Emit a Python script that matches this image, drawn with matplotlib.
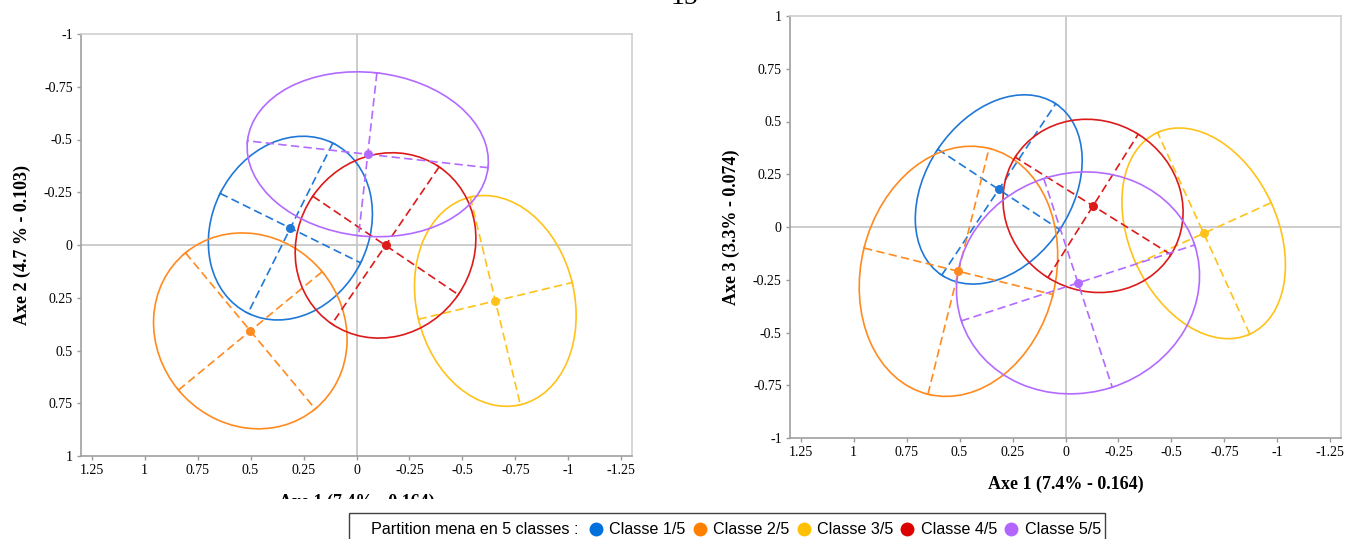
import matplotlib
matplotlib.use('Agg')
import matplotlib.pyplot as plt
import numpy as np
from matplotlib.patches import Ellipse, Rectangle
from matplotlib.lines import Line2D
from matplotlib.transforms import Bbox, TransformedBbox

plt.rcParams['axes.unicode_minus'] = False

# classes de la partition
classes = ['Classe 1/5', 'Classe 2/5', 'Classe 3/5', 'Classe 4/5', 'Classe 5/5']
couleurs = ['#1f78d8', '#ff8a1f', '#ffc21a', '#dd1a1a', '#b36bff']
legende_couleurs = ['#0070dd', '#ff8000', '#ffc000', '#dd0000', '#b266ff']

# plan Axe 1 x Axe 2 : centre, demi-axes, angle (degres)
p12_x = [0.312, 0.501, -0.655, -0.137, -0.053]
p12_y = [-0.080, 0.407, 0.265, 0.002, -0.430]
p12_a = [0.45, 0.48, 0.506, 0.45, 0.571]
p12_b = [0.37, 0.44, 0.373, 0.415, 0.388]
p12_ang = [63.6, 129.6, 103.5, 55.8, -6.4]

# plan Axe 1 x Axe 3
p13_x = [0.315, 0.505, -0.652, -0.130, -0.059]
p13_y = [0.178, -0.210, -0.030, 0.100, -0.265]
p13_a = [0.487, 0.60, 0.525, 0.434, 0.579]
p13_b = [0.345, 0.459, 0.35, 0.401, 0.52]
p13_ang = [123.5, 103.9, 65.5, 32.1, 161.9]

ticks = [1.25, 1, 0.75, 0.5, 0.25, 0, -0.25, -0.5, -0.75, -1, -1.25]
yticks = [-1, -0.75, -0.5, -0.25, 0, 0.25, 0.5, 0.75, 1]

serif = 'Liberation Serif'
W, H = 1345, 539


def plan(ax, cx, cy, ra, rb, ang):
    ax.axhline(0, color='#c3c3c3', lw=1.2, zorder=0)
    ax.axvline(0, color='#c3c3c3', lw=1.2, zorder=0)
    for i in range(len(cx)):
        c = couleurs[i]
        ax.add_patch(Ellipse((cx[i], cy[i]), 2 * ra[i], 2 * rb[i], angle=ang[i],
                             fill=False, edgecolor=c, lw=1.2, zorder=2))
        t = np.radians(ang[i])
        # axes principaux en pointilles
        for r, d in [(ra[i], (np.cos(t), np.sin(t))), (rb[i], (-np.sin(t), np.cos(t)))]:
            x0, y0 = cx[i] - r * d[0], cy[i] - r * d[1]
            x1, y1 = cx[i] + r * d[0], cy[i] + r * d[1]
            ln, = ax.plot([x0, x1], [y0, y1], color=c, lw=1.2, zorder=2)
            ln.set_dashes((5, 2.6))
            # petits traits aux extremites
            e = 0.012
            for xe, ye in [(x0, y0), (x1, y1)]:
                ax.plot([xe - e * d[1], xe + e * d[1]], [ye + e * d[0], ye - e * d[0]],
                        color=c, lw=1.0, zorder=2)
        ax.plot(cx[i], cy[i], 'o', color=c, ms=6.5, mec='none', zorder=3)

    ax.set_xlim(1.3, -1.3)
    ax.set_xticks(ticks)
    ax.set_xticklabels(['%g' % v for v in ticks])
    ax.set_yticks(yticks)
    ax.set_yticklabels(['%g' % v for v in yticks])
    ax.tick_params(direction='out', length=3, width=1, color='#9a9a9a',
                   labelsize=10, pad=3)
    for lab in ax.get_xticklabels() + ax.get_yticklabels():
        lab.set_family(serif)
    for s in ['top', 'right']:
        ax.spines[s].set_color('#cfcfcf')
    for s in ['left', 'bottom']:
        ax.spines[s].set_color('#a0a0a0')
    for s in ax.spines.values():
        s.set_linewidth(1.2)


fig = plt.figure(figsize=(W / 100, H / 100), dpi=100)

ax1 = fig.add_axes([81 / W, 83 / H, 551 / W, 422 / H])
plan(ax1, p12_x, p12_y, p12_a, p12_b, p12_ang)
ax1.set_ylim(1, -1)
ax1.set_xlabel('Axe 1 (7.4% - 0.164)', family=serif, fontsize=13, fontweight='bold', labelpad=12)
ax1.set_ylabel('Axe 2 (4.7 % - 0.103)', family=serif, fontsize=13, fontweight='bold', labelpad=9)
# libelle coupe en bas comme sur l'image d'origine
lbl = ax1.xaxis.label
lbl.set_clip_box(TransformedBbox(Bbox([[0, 1 - 499 / H], [1, 1]]), fig.transFigure))
lbl.set_clip_on(True)

ax2 = fig.add_axes([790 / W, 101 / H, 551 / W, 422 / H])
plan(ax2, p13_x, p13_y, p13_a, p13_b, p13_ang)
ax2.set_ylim(-1, 1)
ax2.set_xlabel('Axe 1 (7.4% - 0.164)', family=serif, fontsize=13, fontweight='bold', labelpad=12)
ax2.set_ylabel('Axe 3 (3.3% - 0.074)', family=serif, fontsize=13, fontweight='bold', labelpad=9)

# bas du titre coupe en haut de l'image
fig.text(0.509, 1 - 4 / H, '15', family=serif, fontsize=20, ha='center', va='baseline')

# legende : cadre, libelle puis pastilles
fig.add_artist(Rectangle((349 / W, -10 / H), 756 / W, (539 - 513 + 10) / H,
                         transform=fig.transFigure, fill=False,
                         edgecolor='#404040', lw=1.0))
fig.text(371 / W, 1 - 530 / H, 'Partition mena en 5 classes :', family='Liberation Sans',
         fontsize=11.6, ha='left', va='center')
poignees = [Line2D([], [], ls='', marker='o', color=c, ms=10, mec='none')
            for c in legende_couleurs]
fig.legend(poignees, classes, ncol=5, loc='center left',
           bbox_to_anchor=(588 / W, 1 - 530 / H), frameon=False,
           prop={'family': 'Liberation Sans', 'size': 11.6},
           handlelength=1.0, handletextpad=0.33, columnspacing=0.38,
           borderpad=0, borderaxespad=0)

fig.savefig('out.png', dpi=100)
